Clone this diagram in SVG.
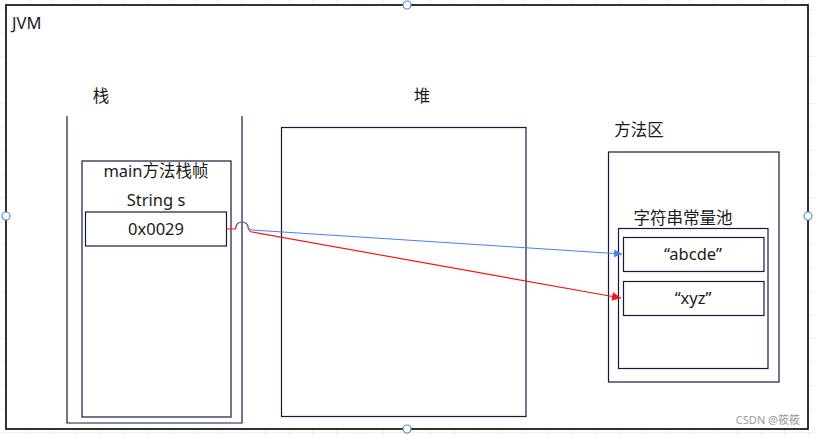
<svg xmlns="http://www.w3.org/2000/svg" width="816" height="435" viewBox="0 0 816 435">
<defs>
<pattern id="grid" x="5.5" y="9" width="23.6" height="23.5" patternUnits="userSpaceOnUse">
<path d="M0 0V23.5M0 0H23.6" fill="none" stroke="#e2e2e2" stroke-width="1"/>
</pattern>
<marker id="ab" viewBox="0 0 10 10" refX="10" refY="5" markerWidth="8" markerHeight="8" markerUnits="userSpaceOnUse" orient="auto"><path d="M0 0L10 5L0 10Z" fill="#4f7cf0"/></marker>
<marker id="ar" viewBox="0 0 10 10" refX="10" refY="5" markerWidth="9" markerHeight="9" markerUnits="userSpaceOnUse" orient="auto"><path d="M0 0L10 5L0 10Z" fill="#f01818"/></marker>
</defs>
<style>
.box{fill:none;stroke:#15193f;stroke-width:1.2}
.t{font-family:"Noto Sans","Noto Sans CJK SC",sans-serif;font-size:16.5px;fill:#1a1a1a;text-anchor:middle}
.h{fill:#fff;stroke:#4a90e2;stroke-width:1.2}
</style>
<rect width="816" height="435" fill="#fff"/>
<rect width="816" height="435" fill="url(#grid)"/>
<g id="jvm">
<rect x="6" y="5" width="802" height="424" fill="#fff" stroke="#000" stroke-width="1.6"/>
<text x="12" y="29" class="t" style="text-anchor:start">JVM</text>
</g>
<g id="stack">
<path class="box" d="M67 116V423H242V116"/>
<text x="101" y="102" class="t">栈</text>
</g>
<g id="main-frame">
<rect class="box" x="82" y="161" width="149" height="256"/>
<text x="156" y="177" class="t">main方法栈帧</text>
<text x="156" y="206" class="t">String s</text>
</g>
<g id="ref-s">
<rect class="box" x="85.5" y="212" width="141" height="34"/>
<text x="156" y="235" class="t">0x0029</text>
</g>
<g id="heap">
<rect class="box" x="281.5" y="127.5" width="244.5" height="289"/>
<text x="422" y="102" class="t">堆</text>
</g>
<g id="method-area">
<rect class="box" x="608.5" y="152" width="170.5" height="230"/>
<text x="639" y="136" class="t">方法区</text>
</g>
<g id="string-pool">
<rect class="box" x="618.5" y="228.5" width="149.5" height="140"/>
<text x="683" y="224" class="t">字符串常量池</text>
</g>
<g id="abcde">
<rect class="box" x="623.5" y="237.5" width="140.5" height="34"/>
<text x="693" y="260" class="t">“abcde”</text>
</g>
<g id="xyz">
<rect class="box" x="623.5" y="281.5" width="140.5" height="34"/>
<text x="693" y="304" class="t">“xyz”</text>
</g>
<g id="connectors" fill="none">
<path d="M227 229H234Q236 229 236 227A6 5 0 0 1 248 227Q249 232 252 232L621 298" stroke="#f01818" stroke-width="1.2" marker-end="url(#ar)"/>
<path d="M236 227A6 5 0 0 1 248 227Q249 230 252 230L622 254" stroke="#4f7cf0" stroke-width="1" marker-end="url(#ab)"/>
</g>
<g id="handles">
<circle class="h" cx="407" cy="5" r="4"/>
<circle class="h" cx="6" cy="216" r="4"/>
<circle class="h" cx="808" cy="216" r="4"/>
<circle class="h" cx="407" cy="429" r="4"/>
</g>
<text x="800" y="424" style="font-family:'Noto Sans','Noto Sans CJK SC',sans-serif;font-size:11px;fill:#9a9a9a;text-anchor:end">CSDN @筱筱</text>
</svg>
